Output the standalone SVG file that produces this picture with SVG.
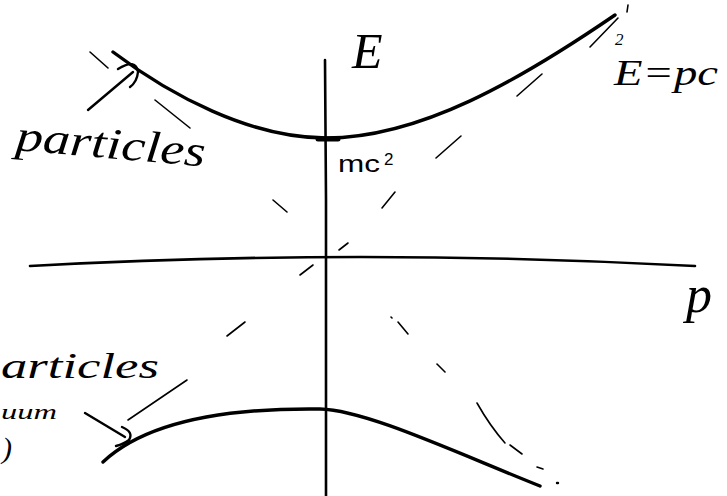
<svg xmlns="http://www.w3.org/2000/svg" width="727" height="496" viewBox="0 0 727 496">
<style>
.ink{fill:none;stroke:#000;stroke-linecap:round;stroke-linejoin:round}
.axis{stroke-width:2.6}
.curve{stroke-width:3.4}
.dash{stroke-width:1.6}
.arrow{stroke-width:2.4}
.hand{font-family:"Liberation Serif",serif;font-style:italic;fill:#000}
.lab{font-family:"Liberation Sans",sans-serif;fill:#000}
</style>
<rect width="727" height="496" fill="#fff"/>
<g id="axes" class="ink axis">
<path d="M30,266 Q360,248 695,266"/>
<path d="M325,60 L326,200 L326,496"/>
</g>
<g id="hyperbolas" class="ink curve">
<path d="M113,52 C170,95 250,138 326,138 C420,138 520,80 615,15"/>
<path d="M103,462 C150,418 240,408 320,409 C365,410 450,450 540,486"/>
<path d="M318,139 L338,139" stroke-width="5"/>
</g>
<g id="asymptotes" class="ink dash">
<path d="M90,52 L108,68"/>
<path d="M155,100 L190,128"/>
<path d="M273,200 L287,212"/>
<path d="M300,275 L313,265"/>
<path d="M339,250 L348,243"/>
<path d="M382,208 L395,192"/>
<path d="M436,158 L461,136"/>
<path d="M517,96 L542,74"/>
<path d="M590,47 L618,18"/>
<path d="M628,5 L627,12"/>
<path d="M227,336 L245,322"/>
<path d="M128,420 L187,380"/>
<path d="M391,317 L392,318"/>
<path d="M398,322 L408,334"/>
<path d="M437,364 L445,372"/>
<path d="M477,403 Q490,426 505,443"/>
<path d="M510,445 L522,454"/>
<path d="M537,467 L543,469"/>
<path d="M557,483 L558,483" stroke-width="2.4"/>
</g>
<g id="arrows" class="ink arrow">
<path d="M88,110 L133,72"/>
<path d="M118,69 Q136,58 138,72 Q137,82 130,87"/>
<path d="M85,413 L125,437"/>
<path d="M122,427 Q134,432 129,440 Q124,444 116,446"/>
</g>
<g id="labels">
<text class="hand" x="15" y="150" font-size="44" textLength="190" lengthAdjust="spacingAndGlyphs" transform="rotate(5 15 150)">particles</text>
<text class="hand" x="1" y="378" font-size="36" textLength="158" lengthAdjust="spacingAndGlyphs">articles</text>
<text class="hand" x="1" y="419" font-size="22" textLength="56" lengthAdjust="spacingAndGlyphs">uum</text>
<text class="hand" x="2" y="458" font-size="30">)</text>
<text class="hand" x="352" y="68" font-size="50">E</text>
<text class="lab" x="338" y="172" font-size="23" textLength="42" lengthAdjust="spacingAndGlyphs">mc</text>
<text class="lab" x="384" y="165" font-size="17">2</text>
<text class="hand" x="615" y="45" font-size="17">2</text>
<text class="hand" x="614" y="85" font-size="36" textLength="104" lengthAdjust="spacingAndGlyphs">E=pc</text>
<text class="hand" x="686" y="312" font-size="52">p</text>
</g>
</svg>
